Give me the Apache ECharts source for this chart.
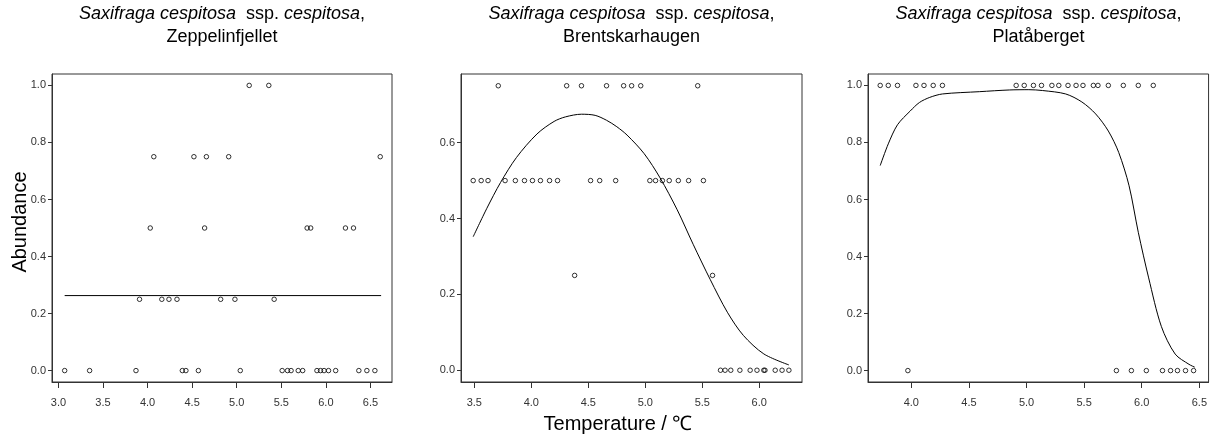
<!DOCTYPE html>
<html><head><meta charset="utf-8">
<script src="https://cdn.jsdelivr.net/npm/echarts@6/dist/echarts.min.js"></script>
<style>html,body{margin:0;padding:0;background:#fff}#c{width:1210px;height:436px}</style>
</head><body><div id="c"></div>
<script>
// ---------- DATA ----------
const siteNames = ['Zeppelinfjellet', 'Brentskarhaugen', 'Platåberget'];
const xTickValues = [[3.0,3.5,4.0,4.5,5.0,5.5,6.0,6.5],[3.5,4.0,4.5,5.0,5.5,6.0],[4.0,4.5,5.0,5.5,6.0,6.5]];
const yTickValues = [[0,0.2,0.4,0.6,0.8,1.0],[0,0.2,0.4,0.6],[0,0.2,0.4,0.6,0.8,1.0]];

// Zeppelinfjellet: temperatures of plots at each abundance level
const zepAt0   = [3.07,3.35,3.87,4.39,4.43,4.57,5.04,5.51,5.57,5.61,5.69,5.74,5.90,5.94,5.98,6.03,6.11,6.37,6.46,6.55];
const zepAt025 = [3.91,4.16,4.24,4.33,4.82,4.98,5.42];
const zepAt05  = [4.03,4.64,5.79,5.83,6.22,6.31];
const zepAt075 = [4.07,4.52,4.66,4.91,6.61];
const zepAt1   = [5.14,5.36];
const zepFitT  = [3.07,6.62];
const zepFitA  = [0.263,0.263];

// Brentskarhaugen
const breAt0   = [5.66,5.70,5.75,5.83,5.92,5.98,6.04,6.05,6.14,6.20,6.26];
const breAt025 = [4.38,5.59];
const breAt05  = [3.49,3.56,3.62,3.77,3.86,3.94,4.01,4.08,4.16,4.23,4.52,4.60,4.74,5.04,5.09,5.15,5.21,5.29,5.38,5.51];
const breAt075 = [3.71,4.31,4.44,4.66,4.81,4.88,4.96,5.46];
const breFitT  = [3.49,3.61,3.73,3.87,4.05,4.20,4.30,4.44,4.56,4.66,4.75,4.84,4.99,5.13,5.28,5.42,5.57,5.72,5.86,6.04,6.26];
const breFitA  = [0.352,0.427,0.495,0.561,0.623,0.656,0.668,0.675,0.672,0.659,0.642,0.620,0.571,0.507,0.423,0.332,0.239,0.153,0.092,0.043,0.014];

// Platåberget
const plaAt0   = [3.97,5.78,5.91,6.04,6.18,6.25,6.31,6.38,6.45];
const plaAt1   = [3.73,3.80,3.88,4.04,4.11,4.19,4.27,4.91,4.98,5.06,5.13,5.22,5.28,5.36,5.43,5.49,5.58,5.62,5.71,5.84,5.97,6.10];
const plaFitT  = [3.73,3.80,3.88,3.99,4.07,4.16,4.27,4.59,4.85,5.02,5.14,5.34,5.48,5.60,5.71,5.80,5.89,5.97,6.06,6.17,6.29,6.41,6.46];
const plaFitA  = [0.719,0.795,0.862,0.910,0.940,0.958,0.970,0.978,0.984,0.985,0.982,0.970,0.942,0.900,0.840,0.765,0.648,0.485,0.325,0.155,0.058,0.022,0.012];

// ---------- BUILD ----------
function pts(temps, level){ return temps.map(t => [t, level]); }
function pairs(xs, ys){ return xs.map((x,i) => [x, ys[i]]); }

const panelPoints = [
  [].concat(pts(zepAt0,0), pts(zepAt025,0.25), pts(zepAt05,0.5), pts(zepAt075,0.75), pts(zepAt1,1.0)),
  [].concat(pts(breAt0,0), pts(breAt025,0.25), pts(breAt05,0.5), pts(breAt075,0.75)),
  [].concat(pts(plaAt0,0), pts(plaAt1,1.0))
];
const panelFits = [pairs(zepFitT,zepFitA), pairs(breFitT,breFitA), pairs(plaFitT,plaFitA)];

const grids = [
  {left:52, top:74, width:340, height:308},
  {left:461, top:74, width:341, height:308},
  {left:868, top:74, width:341, height:308}
];
const xRanges = [[2.928,6.742],[3.383,6.375],[3.624,6.58]];
const yRanges = [[-0.04,1.04],[-0.031,0.781],[-0.04,1.04]];

const FONT = '"Liberation Sans", Arial, Helvetica, sans-serif';
const TSIZE = 18;
const option = {
  animation:false,
  backgroundColor:'#fff',
  title: [],
  grid: grids.map(g => Object.assign({show:true, borderColor:'#333', borderWidth:1, backgroundColor:'transparent'}, g)),
  xAxis: [], yAxis: [], series: [],
  graphic: [
    {type:'text', x:20, y:222, rotation:Math.PI/2, style:{text:'Abundance', font:'20px '+FONT, fill:'#000', align:'center', verticalAlign:'middle'}},
    {type:'text', x:618, y:424, style:{text:'Temperature / ℃', font:'20px '+FONT, fill:'#000', align:'center', verticalAlign:'middle'}}
  ]
};

for (let i=0;i<3;i++){
  const cx = grids[i].left + grids[i].width/2;
  const base = {fontSize:TSIZE, fontFamily:FONT, color:'#000', lineHeight:20};
  option.title.push({
    left: cx, top: 4, textAlign:'center', padding:0,
    text: '{i|Saxifraga cespitosa}{n|  ssp. }{i|cespitosa}{n|,}',
    textStyle:Object.assign({fontWeight:'normal', rich:{ i:Object.assign({fontStyle:'italic'}, base), n:Object.assign({}, base) }}, base)
  });
  option.title.push({
    left: cx, top: 27, textAlign:'center', text: siteNames[i], padding:0,
    textStyle:Object.assign({fontWeight:'normal'}, base)
  });
  option.xAxis.push({
    type:'value', gridIndex:i, min:xRanges[i][0], max:xRanges[i][1],
    axisLine:{show:true, onZero:false, lineStyle:{color:'#333', width:1}},
    axisTick:{show:true, length:6, lineStyle:{color:'#333'}, customValues:xTickValues[i]},
    axisLabel:{customValues:xTickValues[i], formatter:v=>v.toFixed(1), fontSize:11, fontFamily:FONT, color:'#333', margin:15},
    splitLine:{show:false}
  });
  option.yAxis.push({
    type:'value', gridIndex:i, min:yRanges[i][0], max:yRanges[i][1],
    axisLine:{show:true, onZero:false, lineStyle:{color:'#333', width:1}},
    axisTick:{show:true, length:4, lineStyle:{color:'#333'}, customValues:yTickValues[i]},
    axisLabel:{customValues:yTickValues[i], formatter:v=>v.toFixed(1), fontSize:11, fontFamily:FONT, color:'#333', margin:6, padding:[0,0,5,0]},
    splitLine:{show:false}
  });
  option.series.push({
    type:'line', xAxisIndex:i, yAxisIndex:i, data:panelFits[i], showSymbol:false, smooth:i===0?false:0.3,
    lineStyle:{color:'#000', width:1}, silent:true, z:2
  });
  option.series.push({
    type:'scatter', xAxisIndex:i, yAxisIndex:i, data:panelPoints[i], symbol:'circle', symbolSize:4.5,
    itemStyle:{color:'rgba(0,0,0,0)', borderColor:'#000', borderWidth:1}, silent:true, z:3
  });
}

const chart = echarts.init(document.getElementById('c'), null, {renderer:'canvas'});
chart.setOption(option);
</script>
</body></html>
